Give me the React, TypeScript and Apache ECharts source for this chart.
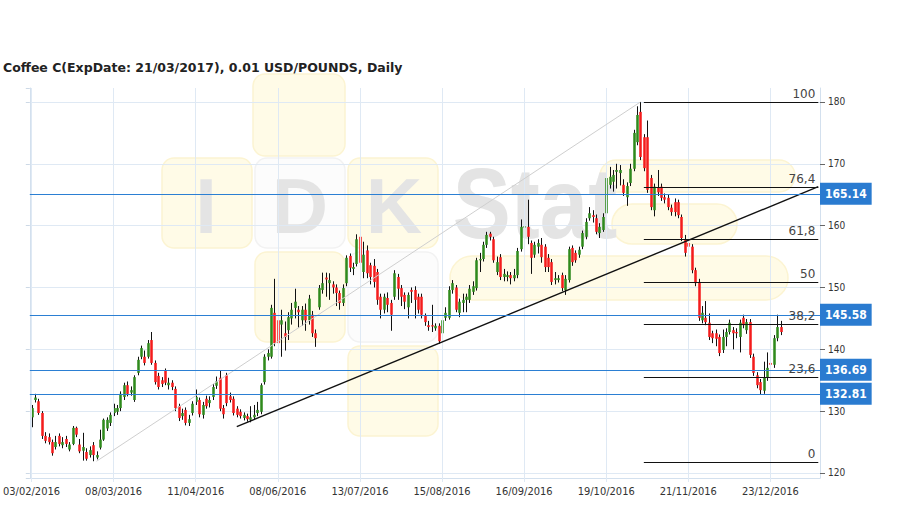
import React, { useEffect, useRef } from 'react';
import * as echarts from 'echarts';

const title = 'Coffee C(ExpDate: 21/03/2017), 0.01 USD/POUNDS, Daily';
const dateLabels = ['03/02/2016', '08/03/2016', '11/04/2016', '08/06/2016', '13/07/2016', '15/08/2016', '16/09/2016', '19/10/2016', '21/11/2016', '23/12/2016'];
const labelStep = 24;
const emptySlots = 11;
const yMin = 119.19;
const yMax = 182.26;

// [open, close, low, high]
const candles: number[][] = [
  [129.0,130.5,127.4,131.0],[131.8,132.2,131.4,132.8],[131.6,129.7,129.4,132.0],[129.7,126.0,125.5,130.0],
  [126.0,125.2,124.8,126.6],[125.8,125.0,124.6,126.4],[125.0,123.2,122.8,125.4],[124.2,125.0,123.8,126.0],
  [126.0,124.7,124.3,126.4],[124.5,125.0,124.0,125.8],[125.5,124.7,124.2,126.0],[123.8,124.6,123.5,125.0],
  [124.7,127.3,124.5,127.6],[127.3,126.2,125.8,127.5],[124.6,123.5,123.2,125.5],[123.6,124.2,122.0,126.5],
  [123.4,122.3,122.0,124.0],[122.9,123.7,122.5,124.3],[124.5,122.9,121.9,125.0],[122.5,122.9,122.2,123.5],
  [124.1,125.4,123.8,127.0],[125.4,128.6,125.2,128.8],[127.2,128.6,126.8,129.0],[128.1,129.4,127.6,129.8],
  [129.7,130.5,129.2,131.2],[129.9,130.5,129.4,131.0],[130.5,132.8,130.0,133.2],[132.3,134.2,131.8,134.6],
  [134.2,132.8,132.4,134.8],[133.0,133.4,132.5,134.0],[131.8,135.5,131.5,135.8],[136.2,138.3,135.8,138.8],
  [138.8,140.2,138.4,140.6],[138.8,137.8,137.4,139.8],[138.8,141.0,138.5,141.5],[141.5,137.8,137.5,142.8],
  [137.8,134.7,134.3,138.2],[135.7,133.9,133.5,136.2],[135.0,134.4,133.9,135.5],[136.5,134.6,134.2,136.9],
  [134.2,134.6,133.5,135.4],[134.6,133.9,133.4,135.0],[133.6,130.5,130.0,134.0],[130.8,128.9,128.4,131.2],
  [129.2,129.7,128.6,130.4],[130.2,128.1,127.7,130.6],[128.1,128.7,127.6,129.4],[129.7,131.2,129.3,131.6],
  [131.5,132.3,131.0,133.5],[131.8,129.5,129.0,132.2],[129.4,131.0,128.8,131.5],[132.0,130.8,130.4,132.5],
  [131.3,131.8,130.6,132.4],[132.3,133.9,131.8,134.4],[134.1,134.8,133.6,135.6],[135.4,130.4,130.0,136.5],
  [130.5,129.5,128.8,131.0],[135.8,131.3,130.8,136.2],[132.4,131.8,131.4,133.0],[132.0,129.7,129.3,132.4],
  [130.4,129.4,129.0,130.8],[129.9,129.2,128.8,130.3],[128.9,129.4,128.5,129.8],[129.2,128.7,128.3,129.6],
  [128.6,129.0,128.2,130.8],[129.0,129.4,128.6,131.0],[129.7,130.2,129.2,131.5],[129.9,134.2,129.5,134.5],
  [134.7,138.8,134.3,139.2],[138.8,139.4,138.2,140.0],
  [138.8,146.7,138.5,147.2],[145.9,141.0,140.5,151.4],[144.7,141.0,138.5,145.2],[144.0,144.7,138.8,146.4],
  [142.6,142.0,139.8,144.5],[143.1,145.2,141.5,146.0],[145.0,146.4,144.0,147.5],[146.7,147.7,145.0,149.8],
  [146.4,146.0,143.5,147.0],[144.7,146.4,143.8,147.0],[146.4,144.7,143.0,147.4],[144.7,148.2,144.0,148.8],
  [145.6,142.6,142.0,146.2],[142.6,141.8,140.4,143.2],[146.8,149.9,146.4,150.4],[149.6,150.7,149.0,152.4],
  [151.6,151.3,148.5,152.4],[150.7,151.2,148.0,152.3],[150.5,150.0,149.0,151.0],[150.0,149.1,147.0,150.5],
  [149.1,147.5,146.4,149.5],[147.5,149.9,147.0,150.5],[150.7,154.8,150.2,155.2],[155.1,153.2,152.5,155.5],
  [153.0,153.3,152.0,154.0],[153.8,157.8,153.4,158.6],[158.2,154.0,153.0,160.3],[152.5,155.3,151.5,157.4],
  [156.0,152.3,151.5,156.8],[153.6,151.7,150.5,154.0],[153.5,150.9,150.0,154.6],[152.5,148.0,147.2,153.0],
  [148.5,146.4,145.0,149.0],[146.4,148.5,145.8,149.0],[148.3,147.2,146.0,149.2],[147.5,145.6,143.0,148.0],
  [148.5,152.3,148.0,152.8],[151.7,149.8,148.0,152.2],[149.9,148.5,147.0,150.4],[148.8,147.7,146.5,149.2],
  [146.8,148.8,145.0,149.2],[149.6,149.3,147.5,150.0],[149.6,148.0,145.0,150.2],[148.5,146.4,145.8,149.0],
  [148.5,145.6,145.0,149.0],[145.4,144.4,143.8,145.8],[143.9,143.6,143.0,144.6],[143.9,143.8,142.8,147.2],
  [143.4,143.8,143.0,144.2],[143.8,141.3,140.9,144.2],[142.6,144.7,142.0,145.5],[145.1,145.9,144.6,146.8],
  [145.1,149.6,144.8,150.2],[149.6,150.7,149.0,151.2],[150.0,146.4,146.0,150.4],[145.9,147.7,145.2,148.2],
  [147.5,148.0,146.0,149.0],[148.0,148.5,146.0,149.0],[148.0,149.8,147.5,150.4],[149.3,150.2,148.8,151.0],
  [149.9,154.4,149.5,154.8],[154.4,154.6,152.5,155.6],[154.6,156.9,154.2,157.4],[156.9,158.5,156.4,159.0],
  [158.7,158.2,157.6,159.0],[157.8,154.4,154.0,158.2],[152.5,154.1,152.0,155.0],[154.9,151.7,151.2,155.4],
  [151.7,152.2,151.0,153.0],[151.7,152.0,151.0,152.6],[152.0,151.5,150.5,152.5],[151.5,152.0,151.0,153.0],
  [152.0,155.9,151.5,156.4],[156.2,159.8,155.8,161.0],[159.8,159.9,158.5,160.5],[159.8,158.2,157.0,164.2],
  [157.2,154.8,152.2,157.6],[155.3,156.9,154.8,157.4],[156.6,157.2,155.5,157.8],[156.9,154.9,154.0,158.0],
  [156.6,153.3,152.5,157.0],[154.8,153.3,152.5,155.4],[154.1,150.9,150.4,154.6],[151.2,151.5,150.5,152.5],
  [151.2,151.5,150.8,152.0],[152.0,149.9,149.4,152.4],[149.6,151.4,148.8,152.0],[151.2,156.2,150.8,156.6],
  [156.4,154.1,153.5,156.8],[155.6,154.4,154.0,156.0],[155.3,156.1,154.8,156.6],[156.6,158.8,156.2,159.2],
  [158.2,160.6,157.8,161.2],[161.2,162.0,160.8,163.0],[161.7,161.4,160.5,162.5],[161.2,159.0,158.6,161.8],
  [158.8,159.8,158.0,160.4],[159.3,161.4,159.0,162.0],[162.0,167.7,161.6,168.2],[166.6,167.9,166.0,169.5],
  [167.1,168.2,165.5,169.0],[168.7,169.0,166.0,170.0],[168.5,169.0,166.5,169.8],[166.6,165.3,164.8,167.5],
  [164.6,166.4,163.2,167.0],[166.9,169.2,166.4,170.0],[169.2,175.0,168.8,175.5],[173.5,177.9,173.0,179.3],
  [178.4,171.1,170.6,180.0],[174.3,169.3,168.8,174.8],[174.3,165.8,165.3,177.0],[167.7,163.0,162.5,168.2],
  [162.5,166.3,161.5,166.8],[166.1,165.4,164.8,169.0],[166.3,164.5,164.0,166.8],[164.6,164.2,163.6,165.2],
  [164.5,163.0,162.5,165.0],[162.9,162.2,161.6,163.4],[163.8,162.2,161.5,164.4],[163.8,161.7,161.2,164.2],
  [161.4,158.0,157.5,161.8],[157.7,155.6,155.0,158.5],[157.2,156.6,156.0,157.8],[156.6,152.8,152.3,157.0],
  [152.8,150.7,150.2,153.2],[150.9,145.1,144.6,151.4],[144.7,145.9,144.2,147.0],[145.1,144.4,143.9,147.8],
  [144.3,142.0,141.5,145.8],[142.6,141.8,141.0,143.0],[142.6,141.7,140.5,143.2],[142.0,139.4,138.9,142.4],
  [139.9,142.0,139.4,143.2],[142.0,142.8,140.5,143.4],[142.8,144.3,142.4,144.8],[143.1,142.6,140.0,143.6],
  [142.8,142.6,141.8,143.4],[142.0,144.3,139.5,144.8],[145.1,143.9,143.4,145.6],[143.1,144.4,142.5,144.9],
  [144.4,139.1,138.6,144.9],[138.8,136.2,135.7,139.3],[135.8,134.2,133.7,136.3],[134.7,133.4,132.7,135.2],
  [133.3,135.4,132.8,138.0],[135.4,137.0,134.9,139.5],[137.8,137.5,134.0,139.5],[137.5,141.8,137.0,142.3],
  [141.8,143.6,141.3,145.6],[143.6,142.8,142.3,144.6],
];

const priceLevels = [165.14, 145.58, 136.69, 132.81];
const fibHigh = 180.0;
const fibLow = 121.8;
const fibRatios = [100, 76.4, 61.8, 50, 38.2, 23.6, 0];
const fibLabels = ['100', '76,4', '61,8', '50', '38,2', '23,6', '0'];
const fibStartIndex = 179;
const grayTrend = [[19, 121.9], [178, 180.0]];
const blackTrend = [[60, 127.5], [230, 166.3]];

const FONT = "'DejaVu Sans Condensed', 'Liberation Sans', Arial, sans-serif";
const GRID = '#dfe9f4';
const AXIS = '#d3e0ee';

export default function App() {
  const ref = useRef<HTMLDivElement>(null);
  useEffect(() => {
    document.body.style.margin = '0';
    if (!ref.current) return;
    const chart = echarts.init(ref.current, undefined, { renderer: 'svg' });
    const n = candles.length + emptySlots;
    const categories = Array.from({ length: n }, (_, i) => String(i));
    const lastIdx = n - 1;
    const showIdx = (i: number) => i % labelStep === 0 && i / labelStep < dateLabels.length;

    const renderItem = (_p: any, api: any) => {
      const i = api.value(0);
      const o = api.value(1), c = api.value(2), l = api.value(3), h = api.value(4);
      const po = api.coord([i, o]);
      const pc = api.coord([i, c]);
      const pl = api.coord([i, l]);
      const ph = api.coord([i, h]);
      const bw = Math.max(2, api.size([1, 0])[0] * 0.74);
      const xc = Math.round(po[0]) + 0.5;
      const top = Math.min(po[1], pc[1]);
      const ht = Math.max(Math.abs(po[1] - pc[1]), 1.3);
      const up = c >= o;
      return {
        type: 'group',
        children: [
          { type: 'line', shape: { x1: xc, y1: ph[1], x2: xc, y2: pl[1] }, style: { stroke: '#111', lineWidth: 1 } },
          { type: 'rect', shape: { x: xc - bw / 2, y: top, width: bw, height: ht }, style: { fill: up ? '#2f8a1c' : '#f41c1c' } },
        ],
      };
    };

    const Y = '#fffbe7', YS = '#fcf4d2', W = '#fcfcfc', WS = '#f2f2f2', G = '#e4e4e4';
    const tile = (x: number, y: number, w: number, h: number, fill: string, stroke: string, r = 12) => ({
      type: 'rect', z: -10, silent: true, shape: { x, y, width: w, height: h, r }, style: { fill, stroke, lineWidth: 1.5 },
    });
    const letter = (text: string, x: number, y: number, size: number, sx = 1) => ({
      type: 'text', z: -9, silent: true, x, y, scaleX: sx,
      style: { text, fill: G, font: `bold ${size}px 'Liberation Sans', Arial, sans-serif`, textAlign: 'center', align: 'center', textVerticalAlign: 'middle', verticalAlign: 'middle' },
    });

    const option: any = {
      animation: false,
      title: { text: title, left: 3, top: 61, padding: 0, textStyle: { fontSize: 12.5, fontWeight: 'bold', color: '#222', fontFamily: "'DejaVu Sans', Verdana, sans-serif" } },
      grid: { left: 29, right: 89, top: 88, bottom: 31 },
      graphic: {
        elements: [
          tile(253, 74, 92, 82, Y, YS),
          tile(162, 158, 90, 90, Y, YS),
          tile(255, 158, 90, 90, W, WS),
          tile(348, 158, 90, 90, Y, YS),
          tile(255, 252, 90, 90, Y, YS),
          tile(348, 252, 90, 90, W, WS),
          tile(348, 346, 90, 90, Y, YS),
          tile(450, 256, 338, 44, Y, YS, 22),
          tile(600, 160, 195, 32, Y, YS, 16),
          tile(612, 204, 125, 40, Y, YS, 20),
          letter('I', 206, 206, 78),
          letter('D', 300, 206, 78),
          letter('K', 394, 206, 78),
          letter('Stat', 535, 203, 100, 0.87),
        ],
      },
      xAxis: {
        type: 'category',
        data: categories,
        boundaryGap: true,
        axisLine: { show: true, lineStyle: { color: AXIS } },
        axisTick: { show: true, alignWithLabel: true, interval: (i: number) => showIdx(i), length: 4, lineStyle: { color: GRID } },
        axisLabel: {
          interval: (i: number) => showIdx(i),
          formatter: (_v: string, i: number) => (showIdx(i) ? dateLabels[i / labelStep] : ''),
          color: '#333', fontSize: 11, fontFamily: FONT, margin: 8,
        },
        splitLine: { show: false },
      },
      yAxis: [
        {
          type: 'value', position: 'right', min: yMin, max: yMax, scale: true,
          axisLine: { show: true, lineStyle: { color: AXIS } },
          axisTick: { show: true, length: 5, lineStyle: { color: '#666' } },
          axisLabel: { color: '#333', fontSize: 10, fontFamily: FONT, margin: 8, showMinLabel: false, showMaxLabel: false },
          splitLine: { show: true, showMinLine: false, showMaxLine: false, lineStyle: { color: GRID } },
        },
        {
          type: 'value', position: 'left', min: yMin, max: yMax, scale: true,
          axisLine: { show: true, lineStyle: { color: AXIS } },
          axisTick: { show: true, length: 4, lineStyle: { color: '#cdd9e6' } },
          axisLabel: { show: false },
          splitLine: { show: false },
        },
      ],
      series: [
        {
          type: 'line', data: [], z: 1, silent: true,
          markLine: {
            silent: true, symbol: 'none', animation: false, label: { show: false },
            lineStyle: { color: GRID, width: 1, type: 'solid' },
            data: dateLabels.map((_, k) => ({ xAxis: k * labelStep })),
          },
        },
        {
          type: 'custom', name: 'Coffee C', z: 3, renderItem,
          encode: { x: 0, y: [1, 2, 3, 4] },
          data: candles.map((c, i) => [i, c[0], c[1], c[2], c[3]]),
        },
        {
          type: 'line', data: [], z: 4, silent: true,
          markLine: {
            silent: true, symbol: 'none', animation: false, label: { show: false },
            lineStyle: { color: '#cfcfcf', width: 1, type: 'solid' },
            data: [[{ coord: grayTrend[0] }, { coord: grayTrend[1] }]],
          },
        },
        {
          type: 'line', data: [], z: 4, silent: true,
          markLine: {
            silent: true, symbol: 'none', animation: false, label: { show: false },
            lineStyle: { color: '#111', width: 1.4, type: 'solid' },
            data: [[{ coord: blackTrend[0] }, { coord: blackTrend[1] }]],
          },
        },
        {
          type: 'line', data: [], z: 4, silent: true,
          markLine: {
            silent: true, symbol: 'none', animation: false,
            lineStyle: { color: '#111', width: 1, type: 'solid' },
            label: { show: true, position: 'insideEndTop', formatter: '{b}', color: '#444', fontSize: 12, fontFamily: "'DejaVu Sans', sans-serif", distance: [3, 2] },
            data: fibRatios.map((r, k) => {
              const v = fibLow + (r / 100) * (fibHigh - fibLow);
              return [{ name: fibLabels[k], coord: [fibStartIndex, v] }, { coord: [lastIdx, v] }];
            }),
          },
        },
        {
          type: 'line', data: [], z: 5, silent: true,
          markLine: {
            silent: true, symbol: 'none', animation: false,
            lineStyle: { color: '#2b7fd3', width: 1, type: 'solid' },
            label: {
              show: true, position: 'end', distance: 0,
              formatter: (p: any) => Number(p.value).toFixed(2),
              backgroundColor: '#2a7bd0', color: '#fff', fontWeight: 'bold', fontSize: 12, fontFamily: FONT,
              padding: [4, 5, 4, 5], lineHeight: 14,
            },
            data: priceLevels.map((v) => ({ yAxis: v })),
          },
        },
      ],
    };
    chart.setOption(option);
    return () => chart.dispose();
  }, []);
  return <div ref={ref} style={{ width: 909, height: 509 }} />;
}
